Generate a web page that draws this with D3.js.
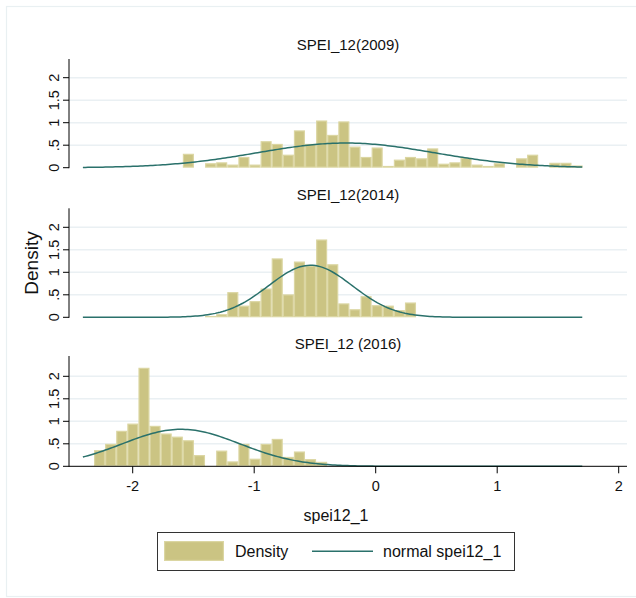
<!DOCTYPE html>
<html>
<head>
<meta charset="utf-8">
<script src="https://cdn.jsdelivr.net/npm/d3@7"></script>
<style>
  body { margin: 0; background: #fff; }
  svg { display: block; font-family: "Liberation Sans", Arial, sans-serif; }
</style>
</head>
<body>
<svg id="chart" width="636" height="598"></svg>
<script>
// histogram bins share one grid: start + i * width
const binStart = -2.41
const binWidth = 0.0914

const panelTitles = ['SPEI_12(2009)', 'SPEI_12(2014)', 'SPEI_12 (2016)']
const binOffsets = [7, 11, 0]

const density2009 = [0.02, 0, 0.31, 0.02, 0.10, 0.12, 0.07, 0.24, 0.07, 0.59,
  0.53, 0.29, 0.83, 0.53, 1.05, 0.73, 1.03, 0.47, 0.24, 0.45,
  0.04, 0.18, 0.24, 0.21, 0.43, 0.09, 0.12, 0.22, 0.07, 0.04,
  0.10, 0.02, 0.21, 0.29, 0.02, 0.11, 0.11, 0.05, 0.02]
const density2014 = [0.03, 0.07, 0.56, 0.26, 0.36, 0.64, 1.31, 0.51, 1.24, 1.15,
  1.73, 1.18, 0.31, 0.18, 0.47, 0.27, 0.26, 0.16, 0.33]
const density2016 = [0.02, 0.36, 0.50, 0.79, 0.95, 2.19, 0.90, 0.73, 0.66, 0.58,
  0.25, 0.015, 0.35, 0.11, 0.50, 0.17, 0.50, 0.61, 0.21, 0.33,
  0.16, 0.10, 0, 0, 0, 0, 0.02, 0.02]
const densities = [density2009, density2014, density2016]

// fitted normal per year
const normalMean = [-0.246, -0.537, -1.602]
const normalSd = [0.728, 0.345, 0.485]
const curveRange = [-2.41, 1.70]

const xTicks = [-2, -1, 0, 1, 2]
const yTicks = [0, 0.5, 1, 1.5, 2]
const yTickLabels = ['0', '.5', '1', '1.5', '2']

const barFill = '#cbc483'
const barEdge = '#dbd6a2'
const curveColor = '#2a716b'
const gridColor = '#eaf0f3'

const svg = d3.select('#chart')

// outer frame
svg.append('rect')
  .attr('x', 6.5).attr('y', 6.5)
  .attr('width', 640).attr('height', 590)
  .attr('fill', 'none')
  .attr('stroke', '#e9f0f2')
  .attr('stroke-width', 1.2)

const plotLeft = 69
const plotRight = 627
const x = d3.scaleLinear()
  .domain([0, 2])
  .range([375.7, 618.7])

const panelBase = [167.7, 317.3, 466.3]
const panelTop = [59, 208.3, 356]

panelTitles.forEach((title, p) => {
  const y = d3.scaleLinear()
    .domain([0, 2])
    .range([panelBase[p], panelBase[p] - 90])

  const g = svg.append('g')

  // grid lines
  g.selectAll('.grid')
    .data(yTicks.slice(1))
    .enter().append('line')
    .attr('class', 'grid')
    .attr('x1', plotLeft).attr('x2', plotRight)
    .attr('y1', d => y(d)).attr('y2', d => y(d))
    .attr('stroke', gridColor)
    .attr('stroke-width', 1.4)

  // bars
  const bins = densities[p].map((v, i) => {
    const lo = binStart + (binOffsets[p] + i) * binWidth
    return { x0: lo, x1: lo + binWidth, v: v }
  }).filter(d => d.v > 0)

  g.selectAll('.bar')
    .data(bins)
    .enter().append('rect')
    .attr('class', 'bar')
    .attr('x', d => x(d.x0) + 0.6)
    .attr('width', d => x(d.x1) - x(d.x0) - 1.2)
    .attr('y', d => Math.min(y(d.v), panelBase[p] - 1.2) + 0.6)
    .attr('height', d => Math.max(panelBase[p] - y(d.v), 1.2) - 1.2)
    .attr('fill', barFill)
    .attr('stroke', barEdge)
    .attr('stroke-width', 1.2)

  // normal curve
  const pts = d3.range(0, 201).map(k => {
    const v = curveRange[0] + (curveRange[1] - curveRange[0]) * k / 200
    const z = (v - normalMean[p]) / normalSd[p]
    return [v, Math.exp(-0.5 * z * z) / (normalSd[p] * Math.sqrt(2 * Math.PI))]
  })
  g.append('path')
    .datum(pts)
    .attr('fill', 'none')
    .attr('stroke', curveColor)
    .attr('stroke-width', 1.5)
    .attr('d', d3.line().x(d => x(d[0])).y(d => y(d[1])))

  // y axis
  g.append('line')
    .attr('x1', plotLeft).attr('x2', plotLeft)
    .attr('y1', panelTop[p]).attr('y2', panelBase[p] + 0.5)
    .attr('stroke', '#000')
    .attr('stroke-width', 1)

  g.selectAll('.ytick')
    .data(yTicks)
    .enter().append('line')
    .attr('class', 'ytick')
    .attr('x1', plotLeft - 6).attr('x2', plotLeft)
    .attr('y1', d => y(d)).attr('y2', d => y(d))
    .attr('stroke', '#000')

  g.selectAll('.ylab')
    .data(yTicks)
    .enter().append('text')
    .attr('class', 'ylab')
    .attr('transform', d => 'translate(54,' + y(d) + ') rotate(-90)')
    .attr('text-anchor', 'middle')
    .attr('dy', '0.36em')
    .attr('font-size', 14.5)
    .attr('fill', '#111')
    .text((d, i) => yTickLabels[i])

  // panel title
  g.append('text')
    .attr('x', (plotLeft + plotRight) / 2)
    .attr('y', panelBase[p] - 117.5)
    .attr('text-anchor', 'middle')
    .attr('font-size', 15)
    .attr('fill', '#111')
    .text(title)
})

// bottom x axis
const xAxisY = panelBase[2]
svg.append('line')
  .attr('x1', plotLeft).attr('x2', plotRight)
  .attr('y1', xAxisY).attr('y2', xAxisY)
  .attr('stroke', '#000')

svg.selectAll('.xtick')
  .data(xTicks)
  .enter().append('line')
  .attr('class', 'xtick')
  .attr('x1', d => x(d)).attr('x2', d => x(d))
  .attr('y1', xAxisY).attr('y2', xAxisY + 7)
  .attr('stroke', '#000')

svg.selectAll('.xlab')
  .data(xTicks)
  .enter().append('text')
  .attr('class', 'xlab')
  .attr('x', d => x(d))
  .attr('y', 491)
  .attr('text-anchor', 'middle')
  .attr('font-size', 14.5)
  .attr('fill', '#111')
  .text(d => d < 0 ? '-' + Math.abs(d) : String(d))

svg.append('text')
  .attr('x', 336)
  .attr('y', 521)
  .attr('text-anchor', 'middle')
  .attr('font-size', 16)
  .attr('fill', '#111')
  .text('spei12_1')

svg.append('text')
  .attr('transform', 'translate(31,263) rotate(-90)')
  .attr('text-anchor', 'middle')
  .attr('dy', '0.36em')
  .attr('font-size', 19)
  .attr('fill', '#111')
  .text('Density')

// legend
const lg = svg.append('g')
lg.append('rect')
  .attr('x', 157.5).attr('y', 532.5)
  .attr('width', 357).attr('height', 38)
  .attr('fill', '#fff')
  .attr('stroke', '#333')
  .attr('stroke-width', 1)
lg.append('rect')
  .attr('x', 164.6).attr('y', 541.6)
  .attr('width', 58.8).attr('height', 18.8)
  .attr('fill', barFill)
  .attr('stroke', barEdge)
  .attr('stroke-width', 1.2)
lg.append('text')
  .attr('x', 235).attr('y', 557)
  .attr('font-size', 16)
  .attr('fill', '#111')
  .text('Density')
lg.append('line')
  .attr('x1', 312).attr('x2', 373)
  .attr('y1', 551.3).attr('y2', 551.3)
  .attr('stroke', curveColor)
  .attr('stroke-width', 1.5)
lg.append('text')
  .attr('x', 383).attr('y', 557)
  .attr('font-size', 16)
  .attr('fill', '#111')
  .text('normal spei12_1')
</script>
</body>
</html>
